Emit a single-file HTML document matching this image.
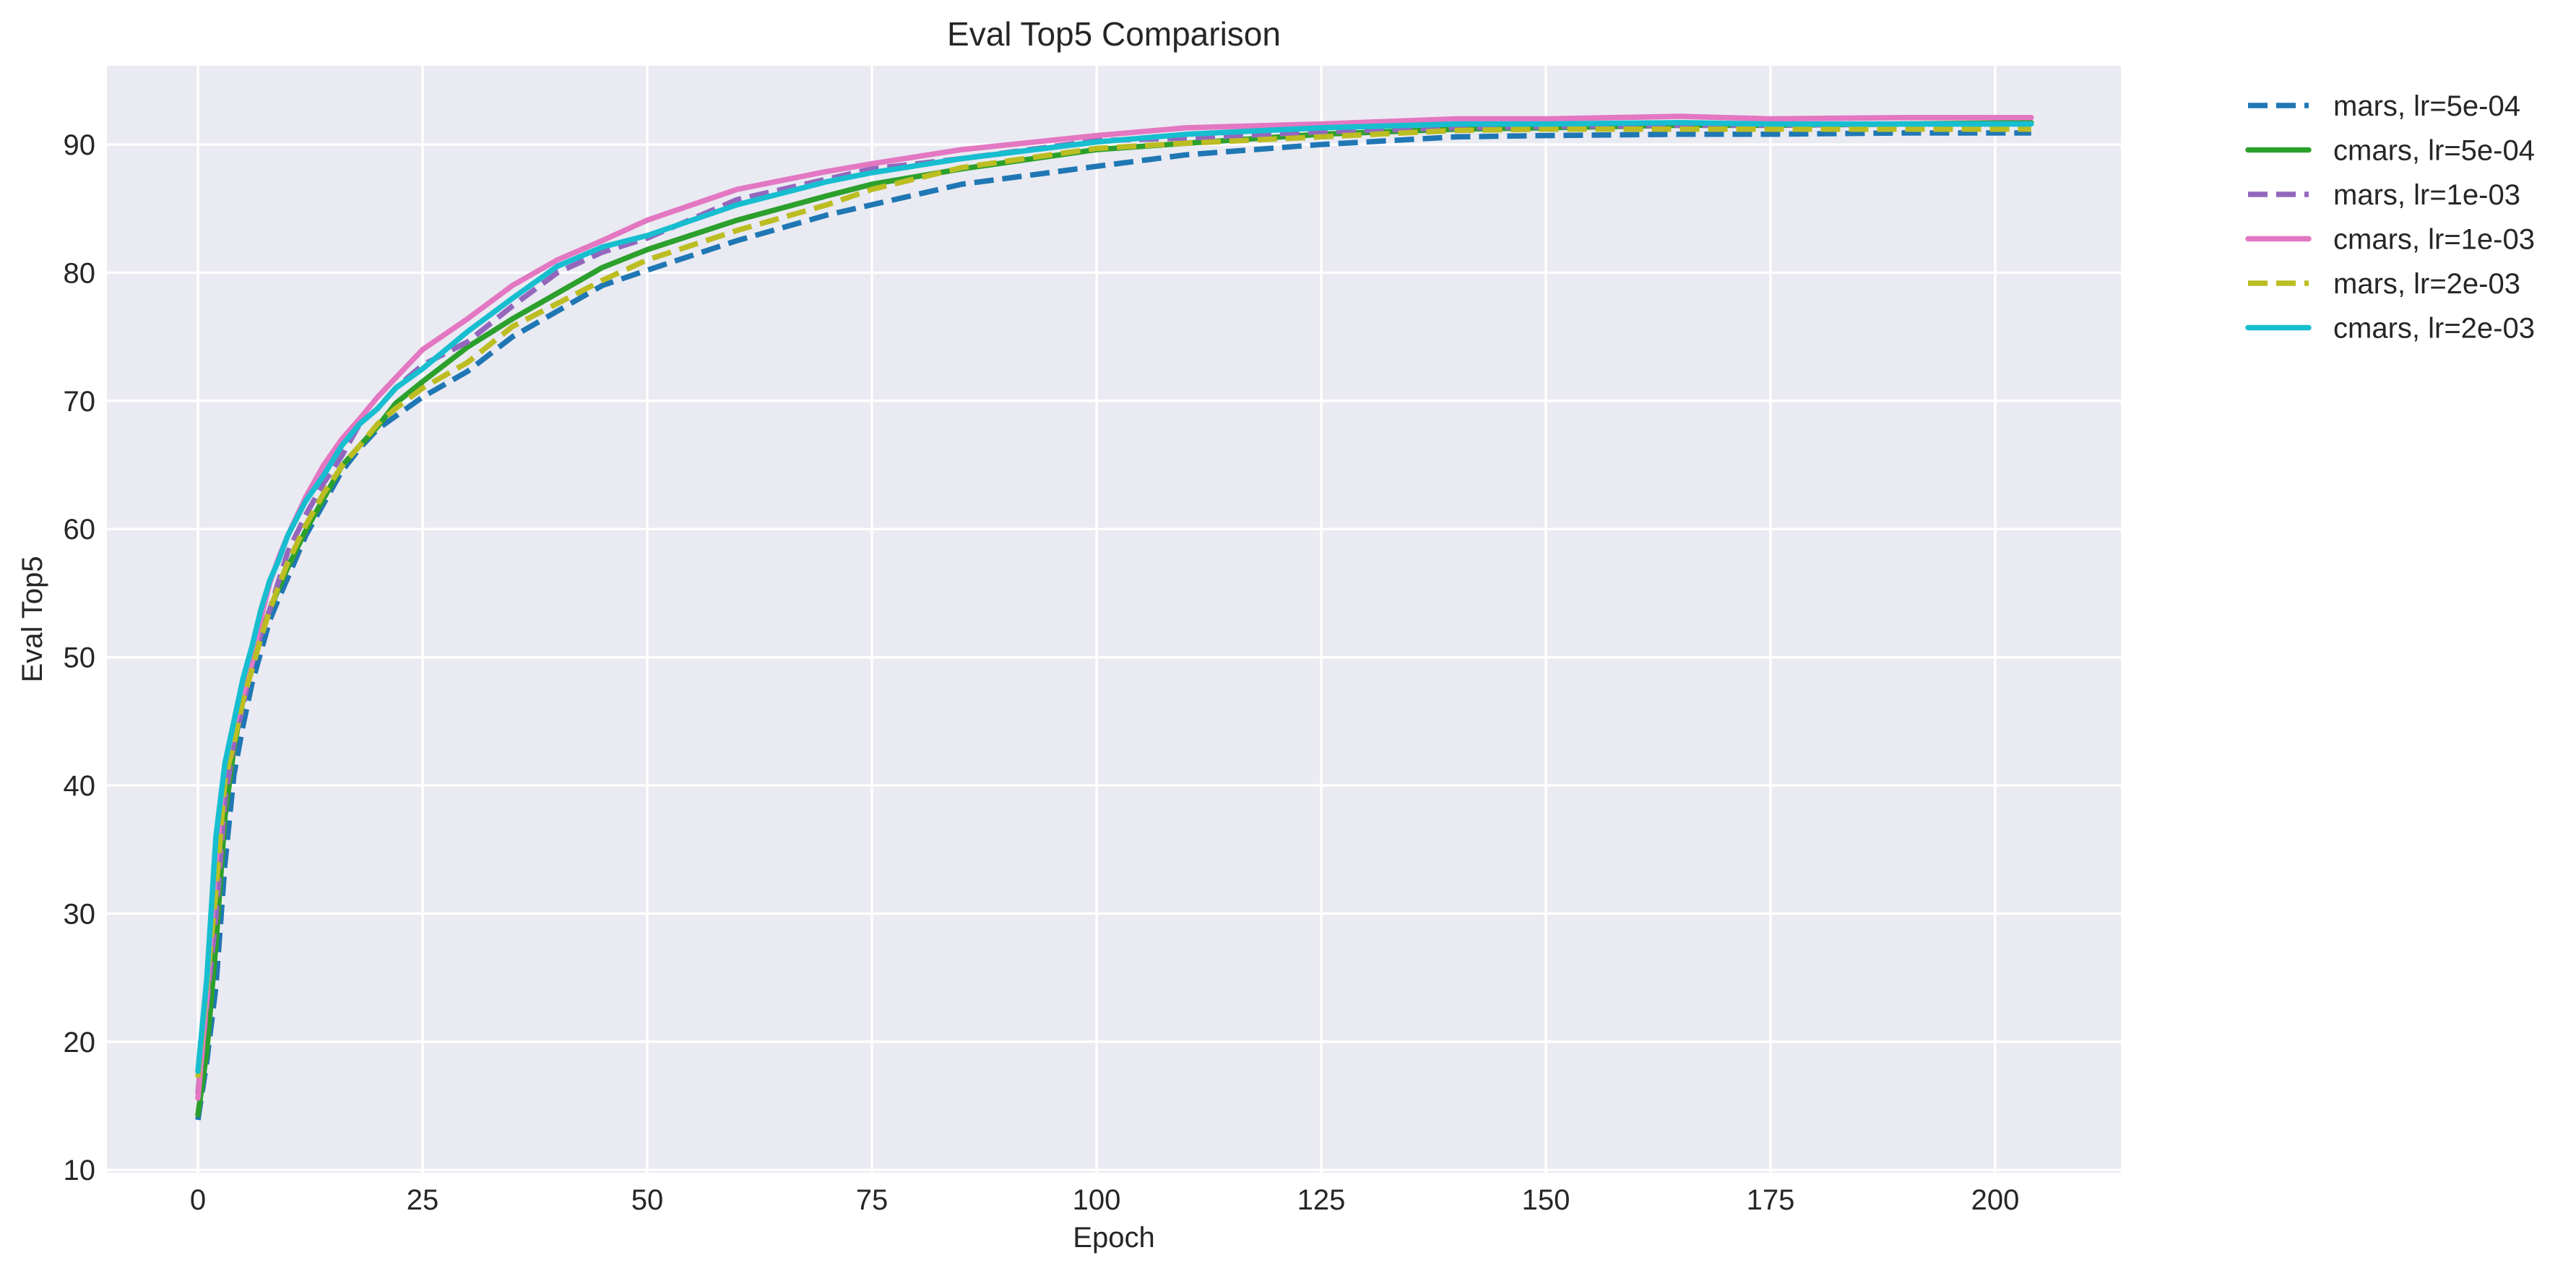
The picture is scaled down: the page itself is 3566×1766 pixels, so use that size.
<!DOCTYPE html>
<html><head><meta charset="utf-8"><style>
html,body{margin:0;padding:0;background:#fff;}
svg{display:block;font-family:"Liberation Sans",sans-serif;}
</style></head><body>
<svg id="chart" width="3566" height="1766" viewBox="0 0 3566 1766" xmlns="http://www.w3.org/2000/svg">
<rect x="0" y="0" width="3566" height="1766" fill="#ffffff"/>
<rect id="plotbg" x="148" y="91" width="2788" height="1532" fill="#EAEAF2"/>
<g id="grid"></g>
<g id="ticks"></g>
<g id="series"></g>
<text x="1542" y="63" text-anchor="middle" font-size="46" fill="#262626">Eval Top5 Comparison</text>
<text x="1542" y="1726" text-anchor="middle" font-size="40" fill="#262626">Epoch</text>
<text transform="translate(58,857) rotate(-90)" text-anchor="middle" font-size="40" fill="#262626">Eval Top5</text>
<g id="legend"></g>
</svg>
<script>
const epochs = [0,1,2,3,4,5,6,7,8,9,10,12,14,16,18,20,22,25,30,35,40,45,50,60,70,75,85,100,110,125,140,150,165,175,190,204];
const marsLr5e4 = [13.9,18.5,24.3,33.8,40.8,44.6,47.9,50.4,52.9,54.6,56.2,59.5,62,64.5,66.3,67.8,68.8,70.3,72.3,75,77,79,80.2,82.5,84.5,85.3,86.9,88.3,89.2,90,90.6,90.7,90.8,90.8,90.9,90.9];
const cmarsLr5e4 = [14.3,19.3,27.6,37.5,42.9,46.6,49.5,51.8,53.7,55.4,57,59.9,62.4,64.9,66.5,68,69.8,71.5,74.2,76.4,78.4,80.4,81.8,84.1,86,86.9,88.1,89.6,90.1,90.8,91.2,91.3,91.5,91.5,91.6,91.7];
const marsLr1e3 = [16,23,29.7,38.8,43.3,46.2,49.5,51.8,53.7,56,58.2,61.1,63.6,65.7,68.2,69.4,71,72.8,74.6,77.4,80,81.6,82.7,85.7,87.3,88.1,88.9,90.3,90.5,91,91.3,91.4,91.5,91.5,91.6,91.6];
const cmarsLr1e3 = [15.6,23.5,33.8,41.7,44.6,47,49.5,53,55.8,57.8,59.5,62.5,65,67,68.6,70.3,71.8,74,76.4,79,81,82.5,84.1,86.5,87.9,88.5,89.6,90.7,91.3,91.6,92,92,92.2,92,92.1,92.1];
const marsLr2e3 = [17.2,24.5,31.7,40.4,43.3,46.6,49,51.5,53.7,55.6,57.4,60.3,62.8,64.9,66.5,68.2,69.4,71,73,75.8,77.6,79.4,81,83.3,85.3,86.5,88.2,89.7,90.1,90.6,91.1,91.2,91.2,91.2,91.2,91.2];
const cmarsLr2e3 = [17.7,25,36,41.7,45,48.3,50.8,53.7,56,57.6,59.5,62.2,64.2,66.5,68.2,69.4,71,72.5,75.4,78,80.5,82,82.9,85.3,87.1,87.8,88.9,90.2,90.8,91.3,91.6,91.6,91.7,91.6,91.6,91.6];
const xTicks = [0,25,50,75,100,125,150,175,200];
const yTicks = [10,20,30,40,50,60,70,80,90];
const seriesLabels = ["mars, lr=5e-04","cmars, lr=5e-04","mars, lr=1e-03","cmars, lr=1e-03","mars, lr=2e-03","cmars, lr=2e-03"];

const NS = "http://www.w3.org/2000/svg";
const X0 = 274, PX_PER_EPOCH = 12.44;
const Y90 = 200, PX_PER_UNIT = 17.74;
function xs(e){ return X0 + e*PX_PER_EPOCH; }
function ys(v){ return Y90 + (90 - v)*PX_PER_UNIT; }
function mk(tag, attrs, parent){ const el=document.createElementNS(NS,tag); for(const k in attrs) el.setAttribute(k,attrs[k]); parent.appendChild(el); return el; }

const grid=document.getElementById('grid'), ticks=document.getElementById('ticks');
xTicks.forEach(t=>{
  const l=mk('line',{x1:xs(t),x2:xs(t),y1:91,y2:1623,stroke:'#ffffff','stroke-width':3.3},grid);
  
  
  const tx=mk('text',{x:xs(t),y:1674,'text-anchor':'middle','font-size':40,fill:'#262626'},ticks);
  tx.textContent=t;
  
  
});
yTicks.forEach(t=>{
  const l=mk('line',{x1:148,x2:2936,y1:ys(t),y2:ys(t),stroke:'#ffffff','stroke-width':3.3},grid);
  
  
  const tx=mk('text',{x:132,y:ys(t)+14,'text-anchor':'end','font-size':40,fill:'#262626'},ticks);
  tx.textContent=t;
  
  
});

const allSeries=[marsLr5e4,cmarsLr5e4,marsLr1e3,cmarsLr1e3,marsLr2e3,cmarsLr2e3];
const colors=['#1f77b4','#2ca02c','#9467bd','#e377c2','#bcbd22','#17becf'];
const dashed=[true,false,true,false,true,false];
const seriesNames=['line-mars-5e-04','line-cmars-5e-04','line-mars-1e-03','line-cmars-1e-03','line-mars-2e-03','line-cmars-2e-03'];
const sg=document.getElementById('series');
allSeries.forEach((vals,i)=>{
  const pts=vals.map((v,j)=>xs(epochs[j]).toFixed(1)+','+ys(v).toFixed(1)).join(' ');
  const a={points:pts,fill:'none',stroke:colors[i],'stroke-width':7.5,'stroke-linejoin':'round'};
  if(dashed[i]){a['stroke-dasharray']='27 12';} else {a['stroke-linecap']='round';}
  const p=mk('polyline',a,sg);
  
  
});

const lg=document.getElementById('legend');
seriesLabels.forEach((lab,i)=>{
  const y=146+i*61.5;
  const a={x1:3112,x2:3196,y1:y,y2:y,stroke:colors[i],'stroke-width':7.5};
  if(dashed[i]){a['stroke-dasharray']='27 12';} else {a['stroke-linecap']='round';}
  const l=mk('line',a,lg);
  
  
  const t=mk('text',{x:3230,y:y+14,'font-size':40,fill:'#262626'},lg);
  t.textContent=lab;
  
  
});
</script>
</body></html>
